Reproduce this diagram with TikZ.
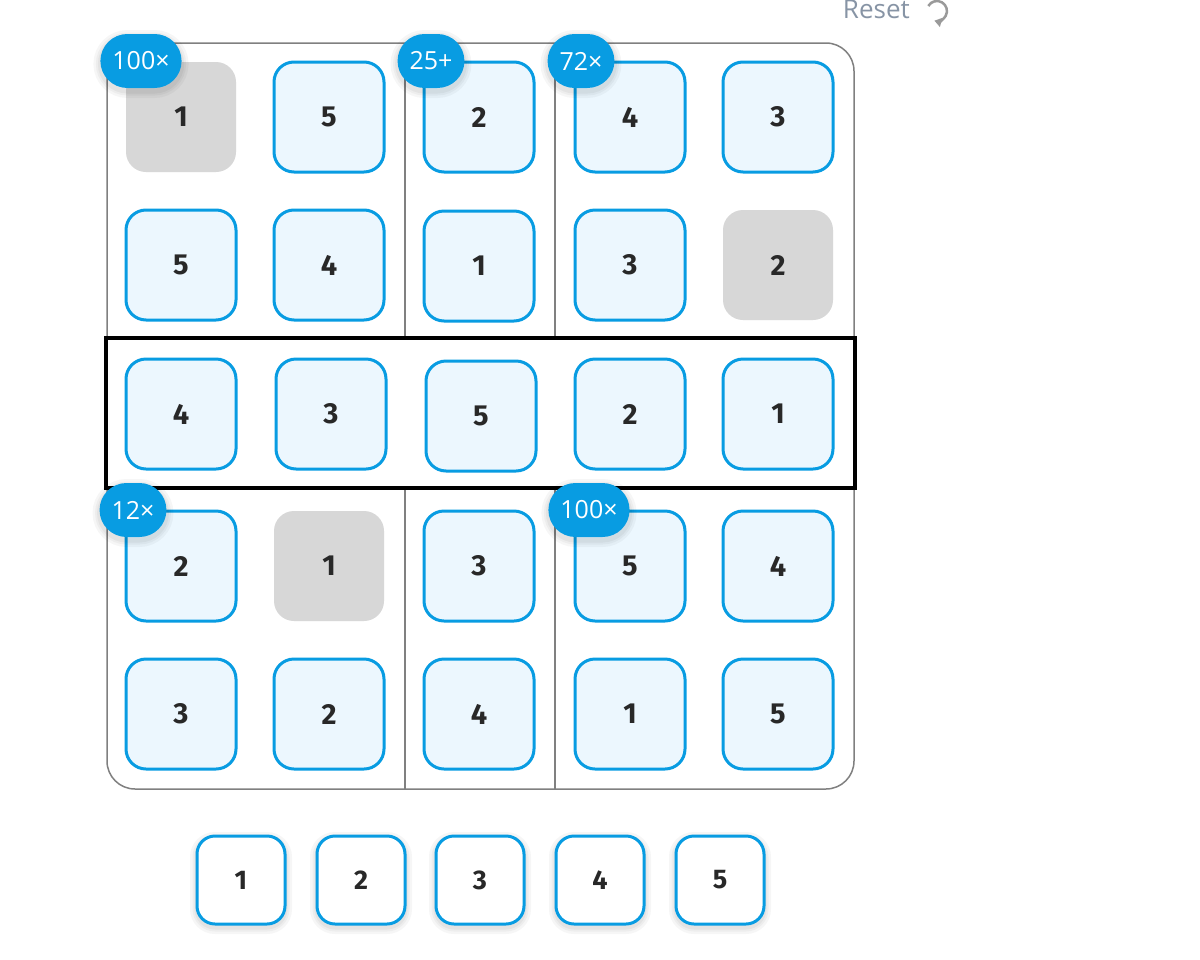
\documentclass[tikz,border=0pt]{standalone}
\usepackage{fontspec}
\setmainfont{Open Sans}
\newfontfamily\tilefont{Fira Sans}
\usetikzlibrary{arrows.meta}
\definecolor{cageblue}{RGB}{8,156,226}
\definecolor{tilefill}{RGB}{236,247,254}
\definecolor{givengray}{RGB}{215,215,215}
\definecolor{gridgray}{RGB}{128,128,128}
\definecolor{digitdark}{RGB}{40,40,40}
\definecolor{resetgray}{RGB}{135,148,165}
\tikzset{
  softshadow/.style={
    preaction={draw=black, draw opacity=0.035, line width=14pt, transform canvas={yshift=-3pt}},
    preaction={draw=black, draw opacity=0.035, line width=9pt, transform canvas={yshift=-3pt}},
    preaction={draw=black, draw opacity=0.04, line width=5pt, transform canvas={yshift=-3pt}}},
  tile/.style={draw=cageblue, line width=3pt, fill=tilefill, rounded corners=20pt,
    minimum size=110pt, inner sep=0pt, text=digitdark,
    font=\tilefont\bfseries\fontsize{29}{31}\selectfont},
  given/.style={tile, draw=none, fill=givengray},
  cagebadge/.style={softshadow, fill=cageblue, text=white, rounded corners=27pt, minimum height=54pt,
    minimum width=66pt, inner xsep=12pt, inner ysep=0pt, font=\fontsize{25}{27}\selectfont},
  choice/.style={softshadow, draw=cageblue, line width=3pt, fill=white, rounded corners=18pt,
    minimum size=88pt, inner sep=0pt, text=digitdark,
    font=\tilefont\bfseries\fontsize{27}{29}\selectfont}
}
\begin{document}
\begin{tikzpicture}[x=1pt, y=-1pt]
        \useasboundingbox[fill=white] (0,0) rectangle (1200,959);

        % Reset link
        \node[text=resetgray, font=\fontsize{26}{28}\selectfont, anchor=base east, inner sep=0pt] (reset) at (910,18) {Reset};
        \draw[gridgray!80, line width=2.5pt, -{Triangle[length=7pt, width=9pt]}] (928.3,6) arc[start angle=-150, end angle=105, radius=10];

        % board frame and cage walls
        \draw[gridgray, line width=1.5pt, rounded corners=28pt] (107,43) rectangle (854,789);
        \draw[gridgray, line width=1.5pt] (405,43) -- (405,338);
        \draw[gridgray, line width=1.5pt] (405,488) -- (405,789);
        \draw[gridgray, line width=1.5pt] (555,43) -- (555,338);
        \draw[gridgray, line width=1.5pt] (555,488) -- (555,789);

        % selected row
        \draw[black, line width=3.5pt] (106,338) rectangle (855,488);

        % row 1
        \node[given] (r1c1) at (181,117) {1};
        \node[tile]  (r1c2) at (329,117) {5};
        \node[tile]  (r1c3) at (479,117) {2};
        \node[tile]  (r1c4) at (630,117) {4};
        \node[tile]  (r1c5) at (778,117) {3};
        % row 2
        \node[tile]  (r2c1) at (181,265) {5};
        \node[tile]  (r2c2) at (329,265) {4};
        \node[tile]  (r2c3) at (479,266) {1};
        \node[tile]  (r2c4) at (630,265) {3};
        \node[given] (r2c5) at (778,265) {2};
        % row 3
        \node[tile]  (r3c1) at (181,414) {4};
        \node[tile]  (r3c2) at (331,414) {3};
        \node[tile]  (r3c3) at (481,416) {5};
        \node[tile]  (r3c4) at (630,414) {2};
        \node[tile]  (r3c5) at (778,414) {1};
        % row 4
        \node[tile]  (r4c1) at (181,566) {2};
        \node[given] (r4c2) at (329,566) {1};
        \node[tile]  (r4c3) at (479,566) {3};
        \node[tile]  (r4c4) at (630,566) {5};
        \node[tile]  (r4c5) at (778,566) {4};
        % row 5
        \node[tile]  (r5c1) at (181,714) {3};
        \node[tile]  (r5c2) at (329,714) {2};
        \node[tile]  (r5c3) at (479,714) {4};
        \node[tile]  (r5c4) at (630,714) {1};
        \node[tile]  (r5c5) at (778,714) {5};

        % cage clues
        \node[cagebadge] (cageA) at (141,61) {100×};
        \node[cagebadge] (cageB) at (431,61) {25+};
        \node[cagebadge] (cageC) at (581,61) {72×};
        \node[cagebadge] (cageD) at (133,510) {12×};
        \node[cagebadge] (cageE) at (589,510) {100×};

        % number choices
        \node[choice] (pick1) at (241,880) {1};
        \node[choice] (pick2) at (361,880) {2};
        \node[choice] (pick3) at (480,880) {3};
        \node[choice] (pick4) at (600,880) {4};
        \node[choice] (pick5) at (720,880) {5};
      \end{tikzpicture}
\end{document}
